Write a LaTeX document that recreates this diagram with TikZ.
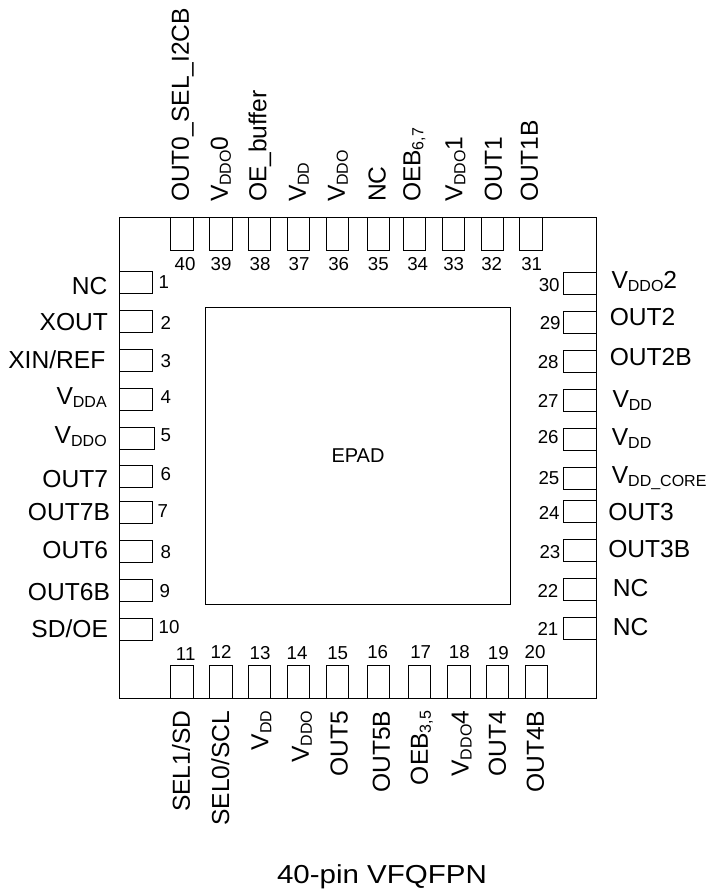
\documentclass[tikz,border=0pt]{standalone}
\usepackage{graphicx}
\usepackage{fontspec}
\setmainfont{Liberation Sans}
\usepackage{tikz}
\usetikzlibrary{positioning}
\newcommand{\subtxt}[1]{\raisebox{-3pt}{\fontsize{16}{16}\selectfont #1}}

\begin{document}
\begin{tikzpicture}[x=1pt,y=-1pt,
	box/.style={draw,rectangle,inner sep=0pt,outer sep=0pt,line width=0.9pt},
	hpin/.style={box,minimum width=33.2pt,minimum height=22pt,line width=0.8pt},
	vpin/.style={box,minimum width=22.3pt,minimum height=33pt,line width=0.8pt},
	lbl/.style={inner sep=0pt,outer sep=0pt,text height=17.6pt,text depth=0pt,font=\fontsize{24.6}{26}\selectfont},
	num/.style={inner sep=0pt,outer sep=0pt,text height=13.2pt,text depth=0pt,font=\fontsize{18.7}{20}\selectfont},
	uplbl/.style={lbl,rotate=90,anchor=west},
	downlbl/.style={lbl,rotate=90,anchor=east}]
	\useasboundingbox (0,0) rectangle (707,890);
	\node[box,minimum width=477.2pt,minimum height=481.3pt] (chip) at (358.1,457.65) {};
	\node[box,minimum width=304.6pt,minimum height=296.7pt,text height=14.3pt,text depth=0pt,font=\fontsize{20}{22}\selectfont] (epad) at (358,455.65) {EPAD};
	% left side
	\node[hpin] (p1) at (136.1,282) {};
	\node[hpin] (p2) at (136.1,321) {};
	\node[hpin] (p3) at (136.1,360) {};
	\node[hpin] (p4) at (136.1,399) {};
	\node[hpin,minimum width=34.8pt] (p5) at (136.9,438) {};
	\node[hpin] (p6) at (136.1,476.7) {};
	\node[hpin] (p7) at (136.1,512.5) {};
	\node[hpin] (p8) at (136.1,551) {};
	\node[hpin] (p9) at (136.1,590) {};
	\node[hpin] (p10) at (136.1,629) {};
	\node[num,right=5.9pt of p1] (n1) {1};
	\node[num,right=7.9pt of p2,yshift=-1.7pt] (n2) {2};
	\node[num,right=7.9pt of p3,yshift=-1pt] (n3) {3};
	\node[num,right=7.9pt of p4,yshift=2.3pt] (n4) {4};
	\node[num,right=6.3pt of p5,yshift=2.7pt] (n5) {5};
	\node[num,right=7.9pt of p6,yshift=2.7pt] (n6) {6};
	\node[num,right=4.9pt of p7,yshift=1.5pt] (n7) {7};
	\node[num,right=7.9pt of p8,yshift=-0.7pt] (n8) {8};
	\node[num,right=6.9pt of p9,yshift=-1pt] (n9) {9};
	\node[num,right=6pt of p10,yshift=2.3pt] (n10) {10};
	\node[lbl,left=12pt of p1,yshift=-4pt] (l1) {NC};
	\node[lbl,left=11.5pt of p2,yshift=-1pt] (l2) {XOUT};
	\node[lbl,left=14.2pt of p3] (l3) {XIN/REF};
	\node[lbl,left=12.8pt of p4,yshift=3pt] (l4) {V\subtxt{DDA}};
	\node[lbl,left=12.8pt of p5,yshift=3pt] (l5) {V\subtxt{DDO}};
	\node[lbl,left=11.5pt of p6,yshift=-2.3pt] (l6) {OUT7};
	\node[lbl,left=9.5pt of p7,yshift=0.5pt] (l7) {OUT7B};
	\node[lbl,left=11.5pt of p8,yshift=1pt] (l8) {OUT6};
	\node[lbl,left=9.5pt of p9,yshift=-2pt] (l9) {OUT6B};
	\node[lbl,left=11.5pt of p10] (l10) {SD/OE};
	% bottom side
	\node[vpin] (p11) at (181.8,681.6) {};
	\node[vpin] (p12) at (220.8,681.6) {};
	\node[vpin] (p13) at (259.7,681.6) {};
	\node[vpin] (p14) at (298.6,681.6) {};
	\node[vpin] (p15) at (337.6,681.6) {};
	\node[vpin] (p16) at (378.5,681.6) {};
	\node[vpin] (p17) at (419.5,681.6) {};
	\node[vpin] (p18) at (458.9,681.6) {};
	\node[vpin] (p19) at (497.5,681.6) {};
	\node[vpin] (p20) at (536.2,681.6) {};
	\node[num,above=4.6pt of p11,xshift=3.9pt] (n11) {11};
	\node[num,above=6.6pt of p12,xshift=0.2pt] (n12) {12};
	\node[num,above=6pt of p13,xshift=0.3pt] (n13) {13};
	\node[num,above=6pt of p14,xshift=-1.6pt] (n14) {14};
	\node[num,above=6pt of p15,xshift=0.1pt] (n15) {15};
	\node[num,above=6.6pt of p16,xshift=-0.8pt] (n16) {16};
	\node[num,above=6.6pt of p17,xshift=1.2pt] (n17) {17};
	\node[num,above=6.6pt of p18,xshift=0.4pt] (n18) {18};
	\node[num,above=6pt of p19,xshift=0.8pt] (n19) {19};
	\node[num,above=6.6pt of p20,xshift=-1.2pt] (n20) {20};
	\node[below=12.7pt of p11,xshift=-0.8pt,downlbl] (l11) {SEL1/SD};
	\node[below=12.7pt of p12,xshift=-0.5pt,downlbl] (l12) {SEL0/SCL};
	\node[below=12.7pt of p13,xshift=-0.2pt,downlbl] (l13) {V\subtxt{DD}};
	\node[below=12.7pt of p14,xshift=1.4pt,downlbl] (l14) {V\subtxt{DDO}};
	\node[below=12.7pt of p15,xshift=1.1pt,downlbl] (l15) {OUT5};
	\node[below=12.7pt of p16,xshift=2.5pt,downlbl] (l16) {OUT5B};
	\node[below=12.7pt of p17,xshift=-0.5pt,downlbl] (l17) {OEB\subtxt{3,5}};
	\node[below=12.7pt of p18,xshift=0.8pt,downlbl] (l18) {V\subtxt{DDO}4};
	\node[below=12.7pt of p19,xshift=-0.5pt,downlbl] (l19) {OUT4};
	\node[below=12.7pt of p20,xshift=-1.2pt,downlbl] (l20) {OUT4B};
	% right side
	\node[hpin] (p21) at (579.9,628) {};
	\node[hpin] (p22) at (579.9,589) {};
	\node[hpin] (p23) at (579.9,550) {};
	\node[hpin] (p24) at (579.9,511.3) {};
	\node[hpin] (p25) at (579.9,478) {};
	\node[hpin] (p26) at (579.9,439) {};
	\node[hpin] (p27) at (579.9,400) {};
	\node[hpin] (p28) at (579.9,361) {};
	\node[hpin] (p29) at (579.9,322) {};
	\node[hpin] (p30) at (579.9,283) {};
	\node[num,left=5pt of p21,yshift=-1pt] (n21) {21};
	\node[num,left=5pt of p22,yshift=-1.7pt] (n22) {22};
	\node[num,left=3pt of p23,yshift=-1.7pt] (n23) {23};
	\node[num,left=3.7pt of p24,yshift=-1.4pt] (n24) {24};
	\node[num,left=4pt of p25] (n25) {25};
	\node[num,left=4.7pt of p26,yshift=2pt] (n26) {26};
	\node[num,left=4.7pt of p27,yshift=-1pt] (n27) {27};
	\node[num,left=4.7pt of p28,yshift=-1pt] (n28) {28};
	\node[num,left=2.7pt of p29,yshift=-0.7pt] (n29) {29};
	\node[num,left=3.7pt of p30,yshift=-2pt] (n30) {30};
	\node[lbl,right=16.3pt of p21,yshift=1pt] (l21) {NC};
	\node[lbl,right=16.3pt of p22,yshift=1pt] (l22) {NC};
	\node[lbl,right=11.8pt of p23,yshift=1pt] (l23) {OUT3B};
	\node[lbl,right=11.8pt of p24] (l24) {OUT3};
	\node[lbl,right=15.3pt of p25,yshift=3pt] (l25) {V\subtxt{DD\_CORE}};
	\node[lbl,right=15.3pt of p26,yshift=2pt] (l26) {V\subtxt{DD}};
	\node[lbl,right=16pt of p27,yshift=1pt] (l27) {V\subtxt{DD}};
	\node[lbl,right=13.3pt of p28,yshift=4pt] (l28) {OUT2B};
	\node[lbl,right=13.3pt of p29,yshift=5pt] (l29) {OUT2};
	\node[lbl,right=15pt of p30,yshift=3pt] (l30) {V\subtxt{DDO}2};
	% top side
	\node[vpin] (p31) at (531,233.5) {};
	\node[vpin] (p32) at (492.3,233.5) {};
	\node[vpin] (p33) at (453.5,233.5) {};
	\node[vpin] (p34) at (414.5,233.5) {};
	\node[vpin] (p35) at (378.5,233.5) {};
	\node[vpin] (p36) at (337.6,233.5) {};
	\node[vpin] (p37) at (298.6,233.5) {};
	\node[vpin] (p38) at (259.7,233.5) {};
	\node[vpin] (p39) at (220.8,233.5) {};
	\node[vpin] (p40) at (181.8,233.5) {};
	\node[num,below=7.6pt of p31,xshift=0.7pt] (n31) {31};
	\node[num,below=7.6pt of p32,xshift=-0.6pt] (n32) {32};
	\node[num,below=7.6pt of p33,xshift=0.2pt] (n33) {33};
	\node[num,below=7.6pt of p34,xshift=3.2pt] (n34) {34};
	\node[num,below=7.6pt of p35,xshift=-0.2pt] (n35) {35};
	\node[num,below=7.6pt of p36,xshift=1.1pt] (n36) {36};
	\node[num,below=7.6pt of p37,xshift=0.4pt] (n37) {37};
	\node[num,below=7.6pt of p38,xshift=0.3pt] (n38) {38};
	\node[num,below=7.6pt of p39,xshift=0.2pt] (n39) {39};
	\node[num,below=7.6pt of p40,xshift=3.2pt] (n40) {40};
	\node[above=15pt of p31,xshift=-2pt,uplbl] (l31) {OUT1B};
	\node[above=15pt of p32,xshift=0.7pt,uplbl] (l32) {OUT1};
	\node[above=15pt of p33,uplbl] (l33) {V\subtxt{DDO}1};
	\node[above=15pt of p34,xshift=-3pt,uplbl] (l34) {OEB\subtxt{6,7}};
	\node[above=15pt of p35,xshift=-1.8pt,uplbl] (l35) {NC};
	\node[above=15pt of p36,xshift=-1.6pt,uplbl] (l36) {V\subtxt{DDO}};
	\node[above=15pt of p37,xshift=-1.6pt,uplbl] (l37) {V\subtxt{DD}};
	\node[above=15pt of p38,xshift=-2.2pt,uplbl] (l38) {OE\_buffer};
	\node[above=15pt of p39,xshift=-1.8pt,uplbl] (l39) {V\subtxt{DDO}0};
	\node[above=15pt of p40,xshift=-1.8pt,uplbl] (l40) {OUT0\_SEL\_I2CB};
	% package name
	\node[inner sep=0pt,text height=18.6pt,text depth=0pt,font=\fontsize{26}{28}\selectfont,below=166.6pt of chip,xshift=23.9pt] (title) {\scalebox{1.135}[1]{40-pin VFQFPN}};
\end{tikzpicture}
\end{document}
